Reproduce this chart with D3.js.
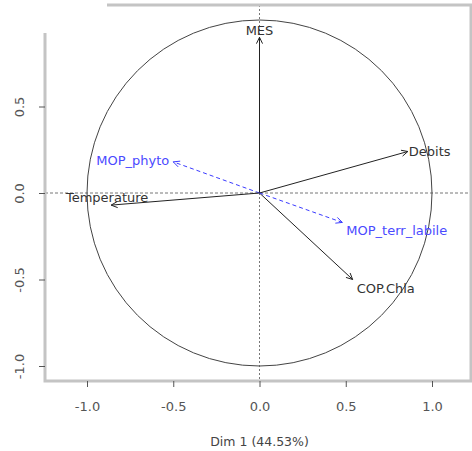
<!DOCTYPE html>
<meta charset="utf-8">
<script src="https://d3js.org/d3.v7.min.js"></script>
<style>
body { margin: 0; background: #fff; }
text { font-family: "DejaVu Sans", "Liberation Sans", sans-serif; }
.frame { stroke: #c4c4c4; stroke-width: 3px; fill: none; }
.tick line { stroke: #555; }
.tick text { fill: #555; font-size: 13px; }
</style>
<body>
<script>

// variables of the factor map
var varNames = ["MES", "Debits", "COP.Chla", "MOP_terr_labile", "MOP_phyto", "Temperature"];
var dim1 = [0.00, 0.86, 0.54, 0.48, -0.50, -0.86];
var dim2 = [0.90, 0.24, -0.50, -0.17, 0.18, -0.07];
var suppl = [false, false, false, true, true, false];

var xTicks = [-1.0, -0.5, 0.0, 0.5, 1.0];
var yTicks = [-1.0, -0.5, 0.0, 0.5];
var xTitle = "Dim 1 (44.53%)";

// where each label goes relative to its arrow tip
var labelPos = {
  "MES":             {dx: 0,   dy: -7, anchor: "middle"},
  "Debits":          {dx: 1,   dy: 0,  anchor: "start"},
  "COP.Chla":        {dx: 4,   dy: 9,  anchor: "start"},
  "MOP_terr_labile": {dx: 4,   dy: 8,  anchor: "start"},
  "MOP_phyto":       {dx: -4,  dy: -1, anchor: "end"},
  "Temperature":     {dx: -4,  dy: -8, anchor: "middle"}
};

var width = 472, height = 451;

var x = d3.scaleLinear().domain([-1, 1]).range([87, 432]);
var y = d3.scaleLinear().domain([-1, 1]).range([366, 20]);

var svg = d3.select("body").append("svg")
    .attr("width", width)
    .attr("height", height);

var pLeft = 45, pRight = 471, pTop = 5, pBottom = 381;
var fmt = function(d) { return d.toFixed(1); };

// reference lines through the origin
svg.append("line")
    .attr("x1", pLeft).attr("x2", pRight)
    .attr("y1", y(0)).attr("y2", y(0))
    .attr("stroke", "#777").attr("stroke-dasharray", "3,2");
svg.append("line")
    .attr("x1", x(0)).attr("x2", x(0))
    .attr("y1", pTop).attr("y2", pBottom)
    .attr("stroke", "#777").attr("stroke-dasharray", "2,2");

// unit circle
svg.append("ellipse")
    .attr("cx", x(0)).attr("cy", y(0))
    .attr("rx", x(1) - x(0)).attr("ry", y(-1) - y(0))
    .attr("fill", "none").attr("stroke", "#444").attr("stroke-width", 1);

// frame (partly cropped in the original)
svg.append("path").attr("class", "frame")
    .attr("d", "M107," + pTop + "H" + pRight + "V" + pBottom + "H" + pLeft + "V33");

// axes
var xAxis = svg.append("g")
    .attr("transform", "translate(0," + pBottom + ")")
    .call(d3.axisBottom(x).tickValues(xTicks).tickFormat(fmt).tickSize(6).tickPadding(15));
xAxis.select(".domain").remove();

var yAxis = svg.append("g")
    .attr("transform", "translate(" + pLeft + ",0)")
    .call(d3.axisLeft(y).tickValues(yTicks).tickFormat(fmt).tickSize(6));
yAxis.select(".domain").remove();
yAxis.selectAll(".tick text")
    .attr("x", 0).attr("dy", "0.35em")
    .attr("text-anchor", "middle")
    .attr("transform", "translate(-26,0) rotate(-90)");

svg.append("text")
    .attr("x", x(0)).attr("y", 446)
    .attr("text-anchor", "middle")
    .style("font-size", "12.5px")
    .style("fill", "#444")
    .text(xTitle);

// arrows
var vars = varNames.map(function(n, i) {
  return {name: n, d1: dim1[i], d2: dim2[i], sup: suppl[i]};
});

function headPath(d) {
  var x1 = x(d.d1), y1 = y(d.d2);
  var a = Math.atan2(y1 - y(0), x1 - x(0));
  var len = 7, sp = Math.PI / 7;
  return "M" + (x1 - len * Math.cos(a - sp)) + "," + (y1 - len * Math.sin(a - sp)) +
         "L" + x1 + "," + y1 +
         "L" + (x1 - len * Math.cos(a + sp)) + "," + (y1 - len * Math.sin(a + sp));
}

var g = svg.append("g");
g.selectAll("line.arrow")
    .data(vars).enter().append("line")
    .attr("class", "arrow")
    .attr("x1", x(0)).attr("y1", y(0))
    .attr("x2", d => x(d.d1)).attr("y2", d => y(d.d2))
    .attr("stroke", d => d.sup ? "#3b3bff" : "#222")
    .attr("stroke-width", 1)
    .attr("stroke-dasharray", d => d.sup ? "4,3" : null);

g.selectAll("path.head")
    .data(vars).enter().append("path")
    .attr("class", "head")
    .attr("d", headPath)
    .attr("fill", "none")
    .attr("stroke", d => d.sup ? "#3b3bff" : "#222")
    .attr("stroke-width", 1);

g.selectAll("text.lab")
    .data(vars).enter().append("text")
    .attr("class", "lab")
    .attr("x", d => x(d.d1) + labelPos[d.name].dx)
    .attr("y", d => y(d.d2) + labelPos[d.name].dy)
    .attr("dy", "0.35em")
    .attr("text-anchor", d => labelPos[d.name].anchor)
    .style("font-size", "13px")
    .style("fill", d => d.sup ? "#4a4aff" : "#333")
    .text(d => d.name);

</script>
</body>
